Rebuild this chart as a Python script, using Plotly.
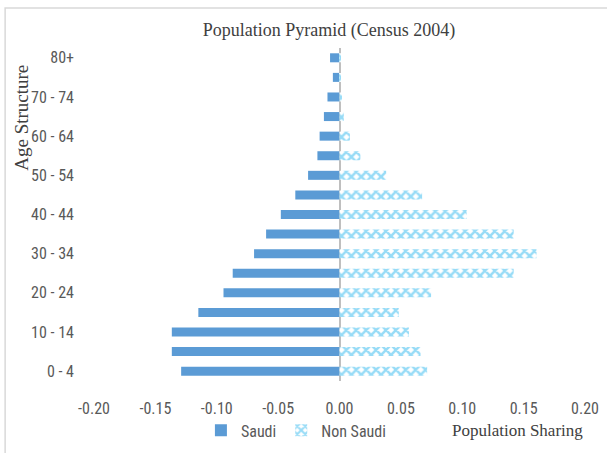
import plotly.graph_objects as go

categories = ["0 - 4", "5 - 9", "10 - 14", "15 - 19", "20 - 24", "25 - 29", "30 - 34",
              "35 - 39", "40 - 44", "45 - 49", "50 - 54", "55 - 59", "60 - 64",
              "65 - 69", "70 - 74", "75 - 79", "80+"]
saudi = [-0.129, -0.1366, -0.1366, -0.115, -0.0945, -0.087, -0.0696, -0.0598,
         -0.0478, -0.036, -0.0256, -0.018, -0.0162, -0.0127, -0.0098, -0.0054, -0.0077]
non_saudi = [0.0714, 0.066, 0.0566, 0.0483, 0.0746, 0.1419, 0.1605, 0.1419,
             0.1036, 0.0673, 0.038, 0.017, 0.0085, 0.0035, 0.002, 0.001, 0.001]
shown_ticks = ["0 - 4", "10 - 14", "20 - 24", "30 - 34", "40 - 44", "50 - 54",
               "60 - 64", "70 - 74", "80+"]
x_ticks = [-0.20, -0.15, -0.10, -0.05, 0.00, 0.05, 0.10, 0.15, 0.20]

SANS = "Liberation Sans Narrow, Roboto Condensed, Liberation Sans, sans-serif"
SERIF = "Liberation Serif, Times New Roman, serif"
GRAY = "#595959"
CYAN = "#2fb8ee"

fig = go.Figure()
fig.add_trace(go.Bar(
    y=categories, x=saudi, orientation="h", name="Saudi",
    marker=dict(color="#5b9bd5", line=dict(width=0)), width=0.46,
))
fig.add_trace(go.Bar(
    y=categories, x=non_saudi, orientation="h", name="Non Saudi",
    marker=dict(color=CYAN, line=dict(width=0),
                pattern=dict(shape="x", fgcolor=CYAN, bgcolor="white",
                             size=7, solidity=0.6)),
    width=0.46,
))

fig.update_layout(
    width=607, height=453,
    margin=dict(l=94, r=22, t=48, b=72, autoexpand=False),
    paper_bgcolor="white", plot_bgcolor="white",
    barmode="overlay",
    title=dict(text="Population Pyramid (Census 2004)", x=0.542, xanchor="center",
               yref="container", y=0.935, yanchor="middle",
               font=dict(family=SERIF, size=18, color="#404040")),
    font=dict(family=SANS, size=16, color=GRAY),
    xaxis=dict(range=[-0.2, 0.2], tickvals=x_ticks,
               ticktext=[f"{v:.2f}" for v in x_ticks], automargin=False,
               showgrid=False, zeroline=True, zerolinecolor="#bfbfbf", zerolinewidth=1.5,
               showline=False, ticklabelstandoff=16,
               tickfont=dict(family=SANS, size=16, color=GRAY)),
    yaxis=dict(categoryorder="array", categoryarray=categories, automargin=False,
               range=[-0.5, 16.5], tickmode="array", tickvals=shown_ticks,
               ticktext=shown_ticks, showgrid=False, zeroline=False, showline=False,
               ticklabelstandoff=19,
               tickfont=dict(family=SANS, size=16, color=GRAY)),
    legend=dict(orientation="h", xref="container", yref="container",
                x=0.331, y=0.05, xanchor="left", yanchor="middle",
                bgcolor="rgba(0,0,0,0)",
                font=dict(family=SANS, size=16, color=GRAY),
                itemwidth=30, traceorder="normal"),
    showlegend=True,
)

fig.add_annotation(text="Population Sharing", xref="paper", yref="paper",
                   x=1.0, y=-0.15, xanchor="right", yanchor="middle", showarrow=False,
                   font=dict(family=SERIF, size=17, color="#404040"))
fig.add_annotation(text="Age Structure", xref="paper", yref="paper",
                   x=-0.147, y=0.79, xanchor="center", yanchor="middle", showarrow=False,
                   textangle=-90,
                   font=dict(family=SERIF, size=19, color="#404040"))
fig.add_shape(type="rect", xref="paper", yref="paper",
              x0=-0.181, x1=1.1, y0=-0.3, y1=1.12,
              line=dict(color="#d9d9d9", width=1.5), fillcolor="rgba(0,0,0,0)", layer="below")

fig.write_html("out.html", config={"displayModeBar": False},
               post_script="document.body.style.margin='0';")
